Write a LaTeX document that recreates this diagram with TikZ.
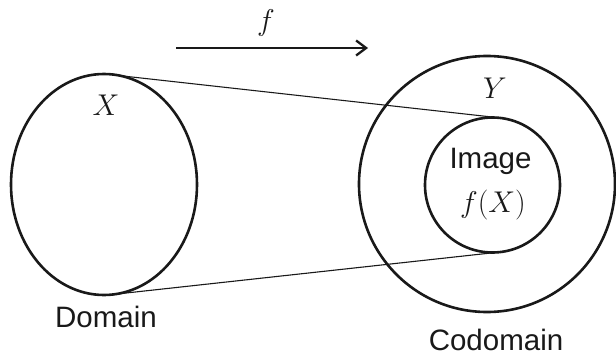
\RequirePackage{fix-cm}
\documentclass[tikz,border=0pt]{standalone}
\usepackage{fontspec}
\newfontfamily\labelsans{Liberation Sans}
\usetikzlibrary{arrows.meta}
\tikzset{
  setline/.style={line width=2.6pt, draw=black!90},
  tangentline/.style={line width=1.1pt, draw=black!90},
  maparrow/.style={line width=2.3pt, draw=black!90, -{Straight Barb[length=10pt,width=15pt,line width=2.3pt]}},
  sanslabel/.style={anchor=base, inner sep=0pt, font=\labelsans\fontsize{29.5}{34}\selectfont, text=black!90},
  mathlabel/.style={anchor=base, inner sep=0pt, font=\fontsize{30}{36}\selectfont, text=black!90}
}
\begin{document}
\begin{tikzpicture}[x=1pt, y=-1pt]
  \useasboundingbox (0,0) rectangle (616,356);

  % domain, codomain and image sets
  \draw[setline] (104,184.5) ellipse [x radius=93pt, y radius=110.5pt];
  \draw[setline] (487,184) circle [radius=128pt];
  \draw[setline] (492.5,185) circle [radius=67.5pt];

  % common tangents from the domain to the image
  \coordinate (domtop) at (114,75);
  \coordinate (dombot) at (112.5,294.5);
  \coordinate (imgtop) at (501,118);
  \coordinate (imgbot) at (500,252);
  \draw[tangentline] (domtop) -- (imgtop);
  \draw[tangentline] (dombot) -- (imgbot);

  % the map f
  \coordinate (arrowstart) at (176,48);
  \coordinate (arrowend) at (368,48);
  \draw[maparrow] (arrowstart) -- (arrowend);
  \node[mathlabel] (flabel) at (266,30) {$f$};

  % labels
  \node[mathlabel] (xlabel) at (106,115) {$X$};
  \node[mathlabel] (ylabel) at (495,98) {$Y$};
  \node[sanslabel] (imagelabel) at (490.5,168) {Image};
  \node[mathlabel] (fxlabel) at (493,212) {$f(X)$};
  \node[sanslabel] (domainlabel) at (106,327) {Domain};
  \node[sanslabel] (codomainlabel) at (496,350) {Codomain};
\end{tikzpicture}
\end{document}
